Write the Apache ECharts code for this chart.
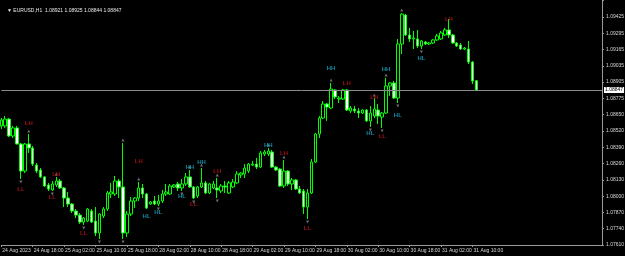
<!DOCTYPE html>
<html>
<head>
<meta charset="utf-8">
<script src="https://cdn.jsdelivr.net/npm/echarts@6/dist/echarts.min.js"></script>
<style>
  html, body { margin: 0; padding: 0; background: #000; }
  #chart { width: 625px; height: 256px; }
</style>
</head>
<body>
<div id="chart"></div>
<script>
// EURUSD H1, 24 Aug 10:00 .. 31 Aug 11:00
const opens = [
  1.08560, 1.08560, 1.08615, 1.08480, 1.08544, 1.08416, 1.08200, 1.08416, 1.08384, 1.08248,
  1.08208, 1.08153, 1.08089, 1.08049, 1.08089, 1.08121, 1.08065, 1.07985, 1.07937, 1.07881,
  1.07849, 1.07793, 1.07801, 1.07881, 1.07801, 1.07706, 1.07841, 1.07897, 1.08017, 1.08017,
  1.08121, 1.08073, 1.07706, 1.07857, 1.07961, 1.07985, 1.08065, 1.08017, 1.07937, 1.07961,
  1.07937, 1.07961, 1.08017, 1.08017, 1.08073, 1.08097, 1.08065, 1.08097, 1.08153, 1.08073,
  1.08001, 1.08073, 1.08105, 1.08025, 1.08065, 1.08065, 1.08041, 1.08081, 1.08025, 1.08073,
  1.08105, 1.08169, 1.08177, 1.08200, 1.08248, 1.08256, 1.08232, 1.08336, 1.08336, 1.08352,
  1.08232, 1.08216, 1.08081, 1.08200, 1.08097, 1.08129, 1.08057, 1.08041, 1.07913, 1.08025,
  1.08272, 1.08496, 1.08623, 1.08735, 1.08703, 1.08847, 1.08775, 1.08775, 1.08847, 1.08679,
  1.08695, 1.08679, 1.08663, 1.08687, 1.08600, 1.08639, 1.08687, 1.08631, 1.08663, 1.08879,
  1.08903, 1.08783, 1.09214, 1.09445, 1.09286, 1.09254, 1.09254, 1.09198, 1.09230, 1.09214,
  1.09222, 1.09246, 1.09254, 1.09286, 1.09326, 1.09286, 1.09222, 1.09206, 1.09174, 1.09174,
  1.09070, 1.08921
];
const closes = [
  1.08608, 1.08615, 1.08480, 1.08544, 1.08416, 1.08200, 1.08416, 1.08384, 1.08256, 1.08200,
  1.08153, 1.08081, 1.08057, 1.08097, 1.08121, 1.08065, 1.07985, 1.07937, 1.07881, 1.07849,
  1.07793, 1.07825, 1.07897, 1.07793, 1.07706, 1.07857, 1.07897, 1.08025, 1.08033, 1.08121,
  1.08073, 1.07706, 1.07857, 1.07961, 1.07985, 1.08065, 1.08017, 1.07905, 1.07953, 1.07937,
  1.07961, 1.08017, 1.08033, 1.08081, 1.08089, 1.08065, 1.08097, 1.08153, 1.08073, 1.07985,
  1.08073, 1.08105, 1.08025, 1.08097, 1.08097, 1.08049, 1.08081, 1.08073, 1.08105, 1.08113,
  1.08177, 1.08184, 1.08224, 1.08256, 1.08256, 1.08232, 1.08344, 1.08352, 1.08360, 1.08232,
  1.08208, 1.08081, 1.08200, 1.08097, 1.08129, 1.08057, 1.08025, 1.07913, 1.08025, 1.08272,
  1.08496, 1.08623, 1.08735, 1.08711, 1.08855, 1.08791, 1.08783, 1.08847, 1.08687, 1.08703,
  1.08679, 1.08663, 1.08687, 1.08600, 1.08663, 1.08695, 1.08639, 1.08663, 1.08879, 1.08903,
  1.08783, 1.09214, 1.09453, 1.09286, 1.09254, 1.09262, 1.09198, 1.09238, 1.09214, 1.09222,
  1.09246, 1.09278, 1.09302, 1.09326, 1.09286, 1.09222, 1.09198, 1.09174, 1.09182, 1.09070,
  1.08919, 1.08847
];
const lows = [
  1.08536, 1.08544, 1.08472, 1.08464, 1.08412, 1.08137, 1.08184, 1.08344, 1.08240, 1.08184,
  1.08145, 1.08073, 1.08041, 1.08041, 1.08073, 1.08057, 1.07913, 1.07913, 1.07865, 1.07825,
  1.07778, 1.07770, 1.07793, 1.07786, 1.07682, 1.07658, 1.07825, 1.07881, 1.07985, 1.08001,
  1.07985, 1.07658, 1.07674, 1.07841, 1.07905, 1.07961, 1.07985, 1.07897, 1.07929, 1.07929,
  1.07921, 1.07945, 1.08001, 1.08009, 1.08065, 1.08041, 1.08041, 1.08081, 1.08065, 1.07977,
  1.07985, 1.08065, 1.08017, 1.08017, 1.08057, 1.07985, 1.08025, 1.08025, 1.08017, 1.08065,
  1.08097, 1.08145, 1.08145, 1.08184, 1.08240, 1.08216, 1.08224, 1.08320, 1.08320, 1.08224,
  1.08200, 1.08073, 1.08065, 1.08081, 1.08049, 1.08049, 1.08017, 1.07857, 1.07817, 1.08017,
  1.08264, 1.08464, 1.08615, 1.08600, 1.08695, 1.08775, 1.08743, 1.08767, 1.08679, 1.08663,
  1.08663, 1.08623, 1.08655, 1.08592, 1.08552, 1.08623, 1.08576, 1.08544, 1.08655, 1.08799,
  1.08775, 1.08743, 1.09134, 1.09278, 1.09230, 1.09174, 1.09182, 1.09174, 1.09206, 1.09206,
  1.09214, 1.09238, 1.09246, 1.09278, 1.09262, 1.09214, 1.09190, 1.09166, 1.09166, 1.09054,
  1.08895, 1.08844
];
const highs = [
  1.08623, 1.08639, 1.08623, 1.08560, 1.08560, 1.08424, 1.08424, 1.08496, 1.08400, 1.08264,
  1.08224, 1.08161, 1.08105, 1.08121, 1.08153, 1.08137, 1.08073, 1.08033, 1.07945, 1.07897,
  1.07865, 1.07833, 1.07905, 1.07897, 1.07913, 1.07865, 1.07913, 1.08041, 1.08105, 1.08161,
  1.08137, 1.08424, 1.07881, 1.07993, 1.07993, 1.08113, 1.08097, 1.08025, 1.07961, 1.08001,
  1.08009, 1.08049, 1.08097, 1.08097, 1.08097, 1.08113, 1.08137, 1.08184, 1.08208, 1.08081,
  1.08081, 1.08224, 1.08121, 1.08105, 1.08121, 1.08145, 1.08097, 1.08121, 1.08121, 1.08137,
  1.08200, 1.08192, 1.08256, 1.08264, 1.08280, 1.08304, 1.08360, 1.08368, 1.08384, 1.08368,
  1.08240, 1.08224, 1.08288, 1.08208, 1.08145, 1.08137, 1.08081, 1.08057, 1.08057, 1.08296,
  1.08504, 1.08639, 1.08759, 1.08743, 1.08903, 1.08855, 1.08799, 1.08855, 1.08855, 1.08719,
  1.08719, 1.08703, 1.08695, 1.08695, 1.08719, 1.08783, 1.08735, 1.08671, 1.08943, 1.08911,
  1.08919, 1.09254, 1.09461, 1.09453, 1.09342, 1.09318, 1.09326, 1.09246, 1.09238, 1.09230,
  1.09254, 1.09294, 1.09318, 1.09342, 1.09413, 1.09294, 1.09230, 1.09222, 1.09190, 1.09238,
  1.09078, 1.08925
];

const timeLabels = ['24 Aug 2023', '24 Aug 18:00', '25 Aug 02:00', '25 Aug 10:00', '25 Aug 18:00',
  '28 Aug 02:00', '28 Aug 10:00', '28 Aug 18:00', '29 Aug 02:00', '29 Aug 10:00', '29 Aug 18:00',
  '30 Aug 02:00', '30 Aug 10:00', '30 Aug 18:00', '31 Aug 02:00', '31 Aug 10:00'];
const priceTicks = ['1.07610', '1.07740', '1.07870', '1.08000', '1.08130', '1.08260', '1.08390',
  '1.08520', '1.08650', '1.08775', '1.08905', '1.09035', '1.09165', '1.09295', '1.09425'];

// swing labels: bar index, price, text
const swingIdx = [7, 5, 14, 13, 21, 35, 37, 40, 46, 48, 49, 51, 55, 68, 72, 78, 84, 88, 94, 95, 97, 98, 101, 107, 114];
const swingPrice = [1.08584, 1.08057, 1.08177, 1.07993, 1.07706, 1.08280, 1.07841, 1.07873, 1.08001, 1.08232,
  1.07937, 1.08272, 1.08200, 1.08408, 1.08344, 1.07746, 1.09022, 1.08903, 1.08504, 1.08791,
  1.08480, 1.09014, 1.08647, 1.09102, 1.09413];
const swingText = ['LH', 'LL', 'LH', 'LL', 'LL', 'LH', 'HL', 'HL', 'HL', 'HH',
  'LL', 'HH', 'LH', 'HH', 'LH', 'LL', 'HH', 'LH', 'HL', 'LH',
  'LL', 'HH', 'HL', 'HL', 'LH'];

// small grey fractal marks
const fractalUp = [7, 14, 31, 35, 48, 51, 55, 68, 72, 84, 95, 98, 102];
const fractalDown = [5, 13, 21, 25, 31, 40, 46, 49, 55, 78, 94, 97, 101, 107];

const yMin = 1.0761, yMax = 1.09565, yStep = 0.0013;
const totalSlots = 154;

const categories = [];
for (let i = 0; i < totalSlots; i++) {
  categories.push(i % 8 === 0 && timeLabels[i / 8] ? timeLabels[i / 8] : '');
}
const candles = opens.map((o, i) => [o, closes[i], lows[i], highs[i]]);
const last = opens.length - 1;
const lastPrice = closes[last];

const teal = '#19aac8', red = '#c0141c';
const font = 'Liberation Sans, Arial, sans-serif';

const chart = echarts.init(document.getElementById('chart'));
chart.setOption({
  backgroundColor: '#000',
  animation: false,
  title: {
    text: '▼ EURUSD,H1  ' + [opens[last], highs[last], lows[last], closes[last]].map(v => v.toFixed(5)).join(' '),
    left: 2, top: 3,
    textStyle: { color: '#e8e8e8', fontSize: 5, fontWeight: 'normal', fontFamily: font }
  },
  grid: { left: 1.3, right: 23, top: 0, bottom: 11, outerBoundsMode: 'none' },
  xAxis: {
    type: 'category',
    data: categories,
    boundaryGap: false,
    axisLine: { show: true, lineStyle: { color: '#9a9a9a', width: 1 } },
    axisTick: { show: true, length: 2, interval: i => i % 8 === 0 && i <= 120, lineStyle: { color: '#9a9a9a' } },
    axisLabel: { interval: 0, align: 'left', margin: 3, padding: [0, 0, 0, 1], color: '#d8d8d8', fontSize: 5, fontFamily: font },
    splitLine: { show: false }
  },
  yAxis: {
    type: 'value',
    position: 'right',
    min: yMin, max: yMax, interval: yStep,
    scale: true,
    axisLine: { show: true, lineStyle: { color: '#9a9a9a', width: 1 } },
    axisTick: { show: true, length: 2, lineStyle: { color: '#9a9a9a' } },
    axisLabel: {
      showMaxLabel: false,
      margin: 4, color: '#d8d8d8', fontSize: 5, fontFamily: font,
      formatter: v => {
        const k = Math.round((v - yMin) / yStep);
        return Math.abs(v - (yMin + k * yStep)) < 1e-7 && priceTicks[k] ? priceTicks[k] : '';
      }
    },
    splitLine: { show: false }
  },
  series: [
    {
      type: 'candlestick',
      data: candles,
      barWidth: 3,
      itemStyle: {
        color: '#000', color0: '#ffffff',
        borderColor: '#00ff00', borderColor0: '#00ff00', borderColorDoji: '#00ff00',
        borderWidth: 1
      }
    },
    {
      type: 'scatter',
      symbol: 'triangle',
      symbolSize: [3, 3],
      symbolOffset: [0, -3],
      itemStyle: { color: '#8a8a8a' },
      data: fractalUp.map(i => [i, highs[i]]),
      markLine: {
        silent: true,
        precision: 5,
        symbol: ['none', 'none'],
        lineStyle: { color: '#8a8a8a', width: 1, type: 'solid' },
        label: {
          position: 'end', distance: 2,
          formatter: lastPrice.toFixed(5),
          color: '#000', backgroundColor: '#fff', padding: [1, 1, 0, 1],
          fontSize: 5, fontFamily: font
        },
        data: [{ yAxis: lastPrice }]
      }
    },
    {
      type: 'scatter',
      symbol: 'triangle',
      symbolRotate: 180,
      symbolSize: [3, 3],
      symbolOffset: [0, 3],
      itemStyle: { color: '#8a8a8a' },
      data: fractalDown.map(i => [i, lows[i]])
    },
    {
      type: 'scatter',
      symbolSize: 2,
      itemStyle: { color: 'rgba(0,0,0,0)' },
      data: swingIdx.map((i, k) => ({
        value: [i, swingPrice[k]],
        label: {
          show: true, position: 'inside',
          formatter: swingText[k],
          color: swingText[k][0] === 'H' ? teal : red,
          fontSize: 6, fontWeight: 'bold', fontFamily: font
        }
      }))
    }
  ]
});
</script>
</body>
</html>
